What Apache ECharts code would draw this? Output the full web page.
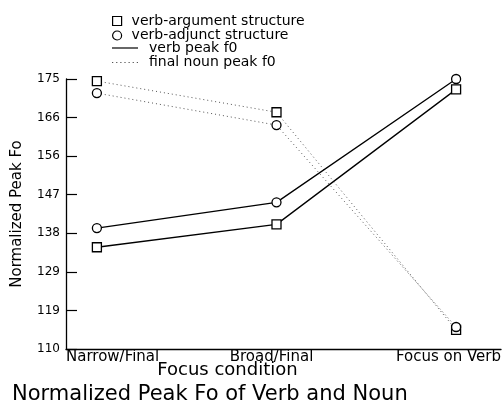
<!DOCTYPE html>
<html><head><meta charset="utf-8">
<script src="https://cdn.jsdelivr.net/npm/echarts@6/dist/echarts.min.js"></script>
<style>html,body{margin:0;padding:0;background:#fff}#c{width:504px;height:405px}</style>
</head><body><div id="c"></div>
<script>
var categories = ['Narrow/Final', 'Broad/Final', 'Focus on Verb'];
var catPos = [0, 1, 2];
var yTickLabels = ['110', '119', '129', '138', '147', '156', '166', '175'];
var argVerb = [134.5, 140.0, 172.5];
var adjVerb = [139.1, 145.3, 175.0];
var argNoun = [174.5, 167.0, 114.6];
var adjNoun = [171.6, 163.9, 115.3];
var legendStructure = ['verb-argument structure', 'verb-adjunct structure'];
var legendLines = ['verb peak f0', 'final noun peak f0'];

function pts(vals){ return vals.map(function(v,i){ return [catPos[i], v]; }); }
var F = 'DejaVu Sans';
var chart = echarts.init(document.getElementById('c'), null, {renderer:'canvas'});
var hollow = {color:'#fff', borderColor:'#000', borderWidth:1.2};
var dots = 'path://M0,0h1.2v1.2h-1.2zM4,0h1.2v1.2h-1.2zM8,0h1.2v1.2h-1.2zM12,0h1.2v1.2h-1.2zM16,0h1.2v1.2h-1.2zM20,0h1.2v1.2h-1.2zM24,0h1.2v1.2h-1.2z';
function mk(name, data, sym, dotted){
  return {name:name, type:'line', xAxisIndex:0, yAxisIndex:0, data:pts(data),
    symbol: sym, symbolSize: 9, showSymbol:true,
    itemStyle:{color:'#fff', borderColor:'#000', borderWidth:1.3},
    lineStyle: dotted ? {color:'#555', width:1, type:[1,3]} : {color:'#000', width:1.3},
    emphasis:{disabled:true}, z: dotted?2:3, animation:false};
}
function dummy(name){ return {name:name, type:'line', data:[], xAxisIndex:0, yAxisIndex:0, itemStyle:{color:'#000'}}; }
var legText = {fontFamily:F, fontSize:14, color:'#000', lineHeight:13};
chart.setOption({
  animation:false,
  backgroundColor:'#fff',
  title:{text:'Normalized Peak Fo of Verb and Noun', left:7, top:379,
    textStyle:{fontFamily:F, fontSize:21, fontWeight:'normal', color:'#000'}},
  legend:[
    {orient:'vertical', left:112, top:14, itemWidth:9, itemHeight:9, itemGap:0.5, selectedMode:false, padding:0,
     textStyle:Object.assign({padding:[0,0,0,5]}, legText),
     data:[{name:legendStructure[0], icon:'rect', itemStyle:hollow},
           {name:legendStructure[1], icon:'circle', itemStyle:hollow}]},
    {orient:'vertical', left:112, top:41, itemWidth:26, itemHeight:9, itemGap:0.5, selectedMode:false, padding:0,
     textStyle:Object.assign({padding:[0,0,0,6]}, legText),
     data:[{name:legendLines[0], icon:'path://M0,4L26,4L26,5.2L0,5.2Z', itemStyle:{color:'#000', borderWidth:0}},
           {name:legendLines[1], icon:dots, itemStyle:{color:'#555', borderWidth:0}}]}
  ],
  grid:{left:66, right:1, top:79, bottom:56, containLabel:false},
  xAxis:[
    {type:'value', min:-0.172, max:2.25, axisLine:{show:true, onZero:false, lineStyle:{color:'#000', width:1.3}},
     axisTick:{show:false}, axisLabel:{show:false}, splitLine:{show:false}},
    {type:'category', data:categories, boundaryGap:false, position:'bottom',
     axisLine:{show:false, onZero:false}, axisTick:{show:false},
     axisLabel:{margin:1, fontFamily:F, fontSize:15, color:'#000', alignMinLabel:'left', alignMaxLabel:'right', interval:0,
       formatter:function(v, i){ return i === 1 ? '{m|' + v + '}' : v; },
       rich:{m:{fontFamily:F, fontSize:15, color:'#000', padding:[0,24,0,0]}}},
     name:'Focus condition', nameLocation:'middle', nameGap:12, nameMoveOverlap:false,
     nameTextStyle:{fontFamily:F, fontSize:18, color:'#000', padding:[0,112,0,0]}}
  ],
  yAxis:[
    {type:'value', min:110, max:175, axisLine:{show:true, onZero:false, lineStyle:{color:'#000', width:1.3}},
     axisTick:{show:false}, axisLabel:{show:false}, splitLine:{show:false}},
    {type:'category', data:yTickLabels, boundaryGap:false, position:'left',
     axisLine:{show:false, onZero:false}, axisTick:{show:true, inside:true, length:11, lineStyle:{color:'#000', width:1.2}},
     axisLabel:{margin:6, fontFamily:F, fontSize:12, color:'#000', interval:0},
     name:'Normalized Peak Fo', nameLocation:'middle', nameGap:41, nameRotate:90, nameMoveOverlap:false,
     nameTextStyle:{fontFamily:F, fontSize:15, color:'#000'}}
  ],
  series:[
    mk('argNoun', argNoun, 'rect', true),
    mk('adjNoun', adjNoun, 'circle', true),
    mk('argVerb', argVerb, 'rect', false),
    mk('adjVerb', adjVerb, 'circle', false),
    dummy(legendStructure[0]), dummy(legendStructure[1]), dummy(legendLines[0]), dummy(legendLines[1])
  ]
});
</script></body></html>
